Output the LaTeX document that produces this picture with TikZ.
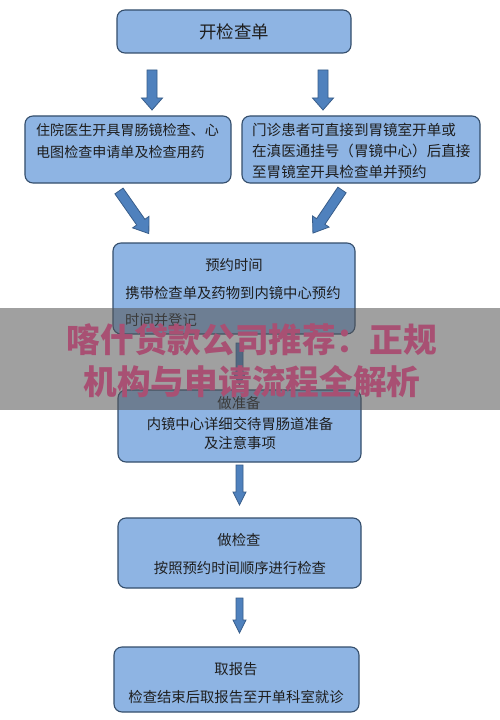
\documentclass[tikz,border=0pt]{standalone}
\usepackage{fontspec}
\setmainfont{Noto Sans CJK SC}
\definecolor{boxfill}{RGB}{142,180,227}
\definecolor{boxline}{RGB}{52,78,108}
\definecolor{arrfill}{RGB}{79,129,189}
\definecolor{arrline}{RGB}{56,93,138}
\definecolor{txtcol}{RGB}{30,30,30}
\definecolor{bandcol}{RGB}{83,83,83}
\definecolor{wmcol}{RGB}{168,80,115}
\begin{document}
\begin{tikzpicture}[x=1bp,y=-1bp,
  box/.style={draw=boxline, fill=boxfill, line width=1.1bp, rounded corners=8bp, inner sep=0pt},
  txt/.style={font=\fontsize{14.4}{21}\selectfont, text=txtcol, inner sep=0pt},
  arrowst/.style={fill=arrfill, draw=arrline, line width=0.8bp, line join=miter},
  pics/barrow/.style n args={4}{code={
    \filldraw[arrowst] (-#2,0) -- (#2,0) -- (#2,#1-#4) -- (#3,#1-#4) -- (0,#1)
      -- (-#3,#1-#4) -- (-#2,#1-#4) -- cycle;}}]
\useasboundingbox (0,0) rectangle (500,720);
\fill[white] (0,0) rectangle (500,720);

% boxes
\node[box, minimum width=234bp, minimum height=43bp] (b1) at (234,31.5) {};
\node[box, minimum width=206bp, minimum height=67bp] (b2l) at (128,149.5) {};
\node[box, minimum width=238bp, minimum height=67bp] (b2r) at (361,149.5) {};
\node[box, minimum width=242bp, minimum height=91bp] (b3) at (234,288.5) {};
\node[box, minimum width=243bp, minimum height=72bp] (b4) at (239.5,426) {};
\node[box, minimum width=243bp, minimum height=70bp] (b5) at (239.5,553) {};
\node[box, minimum width=245bp, minimum height=65bp] (b6) at (236.5,679.5) {};

% texts
\node[txt, font=\fontsize{17.5}{21}\selectfont] (t1) at (b1.center) {开检查单};
\node[txt, anchor=west, align=left, font=\fontsize{14.1}{22}\selectfont] (t2l) at (36,141)
  {住院医生开具胃肠镜检查、心\\电图检查申请单及检查用药};
\node[txt, anchor=west, align=left, font=\fontsize{14.6}{21}\selectfont] (t2r) at (252,151)
  {门诊患者可直接到胃镜室开单或\\在滇医通挂号（胃镜中心）后直接\\至胃镜室开具检查单并预约};
\node[txt] (t3a) at (234,265) {预约时间};
\node[txt] (t3b) at (233,293) {携带检查单及药物到内镜中心预约};
\node[txt, anchor=west] (t3c) at (125,320) {时间并登记};
\node[txt] (t4a) at (239,403) {做准备};
\node[txt, align=center, font=\fontsize{14.4}{19.5}\selectfont] (t4b) at (240,433.5)
  {内镜中心详细交待胃肠道准备\\及注意事项};
\node[txt] (t5a) at (239,540) {做检查};
\node[txt] (t5b) at (240,568) {按照预约时间顺序进行检查};
\node[txt] (t6a) at (236,669) {取报告};
\node[txt] (t6b) at (236,697) {检查结束后取报告至开单科室就诊};

% block arrows
\coordinate (a1) at (152,70);
\coordinate (a2) at (323,70);
\coordinate (a3) at (119,191);
\coordinate (a4) at (342,190);
\coordinate (a5) at (239.5,343);
\coordinate (a6) at (239.5,465);
\coordinate (a7) at (239.5,598);
\pic at (a1) {barrow={40}{5}{10.5}{12}};
\pic at (a2) {barrow={40}{5}{10.5}{12}};
\pic[rotate=35] at (a3) {barrow={52}{5}{10}{14}};
\pic[rotate=-34] at (a4) {barrow={52}{5}{10}{14}};
\pic at (a5) {barrow={42}{3.5}{6.5}{13}};
\pic at (a6) {barrow={40}{3.5}{6.5}{13}};
\pic at (a7) {barrow={35}{3.5}{6.5}{13}};

% watermark band
\fill[bandcol, opacity=0.55] (0,308) rectangle (500,410);
\node[font=\fontsize{33.8}{42}\selectfont\bfseries, text=wmcol, align=center, inner sep=0pt]
  (wm) at (252,361) {喀什贷款公司推荐：正规\\机构与申请流程全解析};
\end{tikzpicture}
\end{document}
